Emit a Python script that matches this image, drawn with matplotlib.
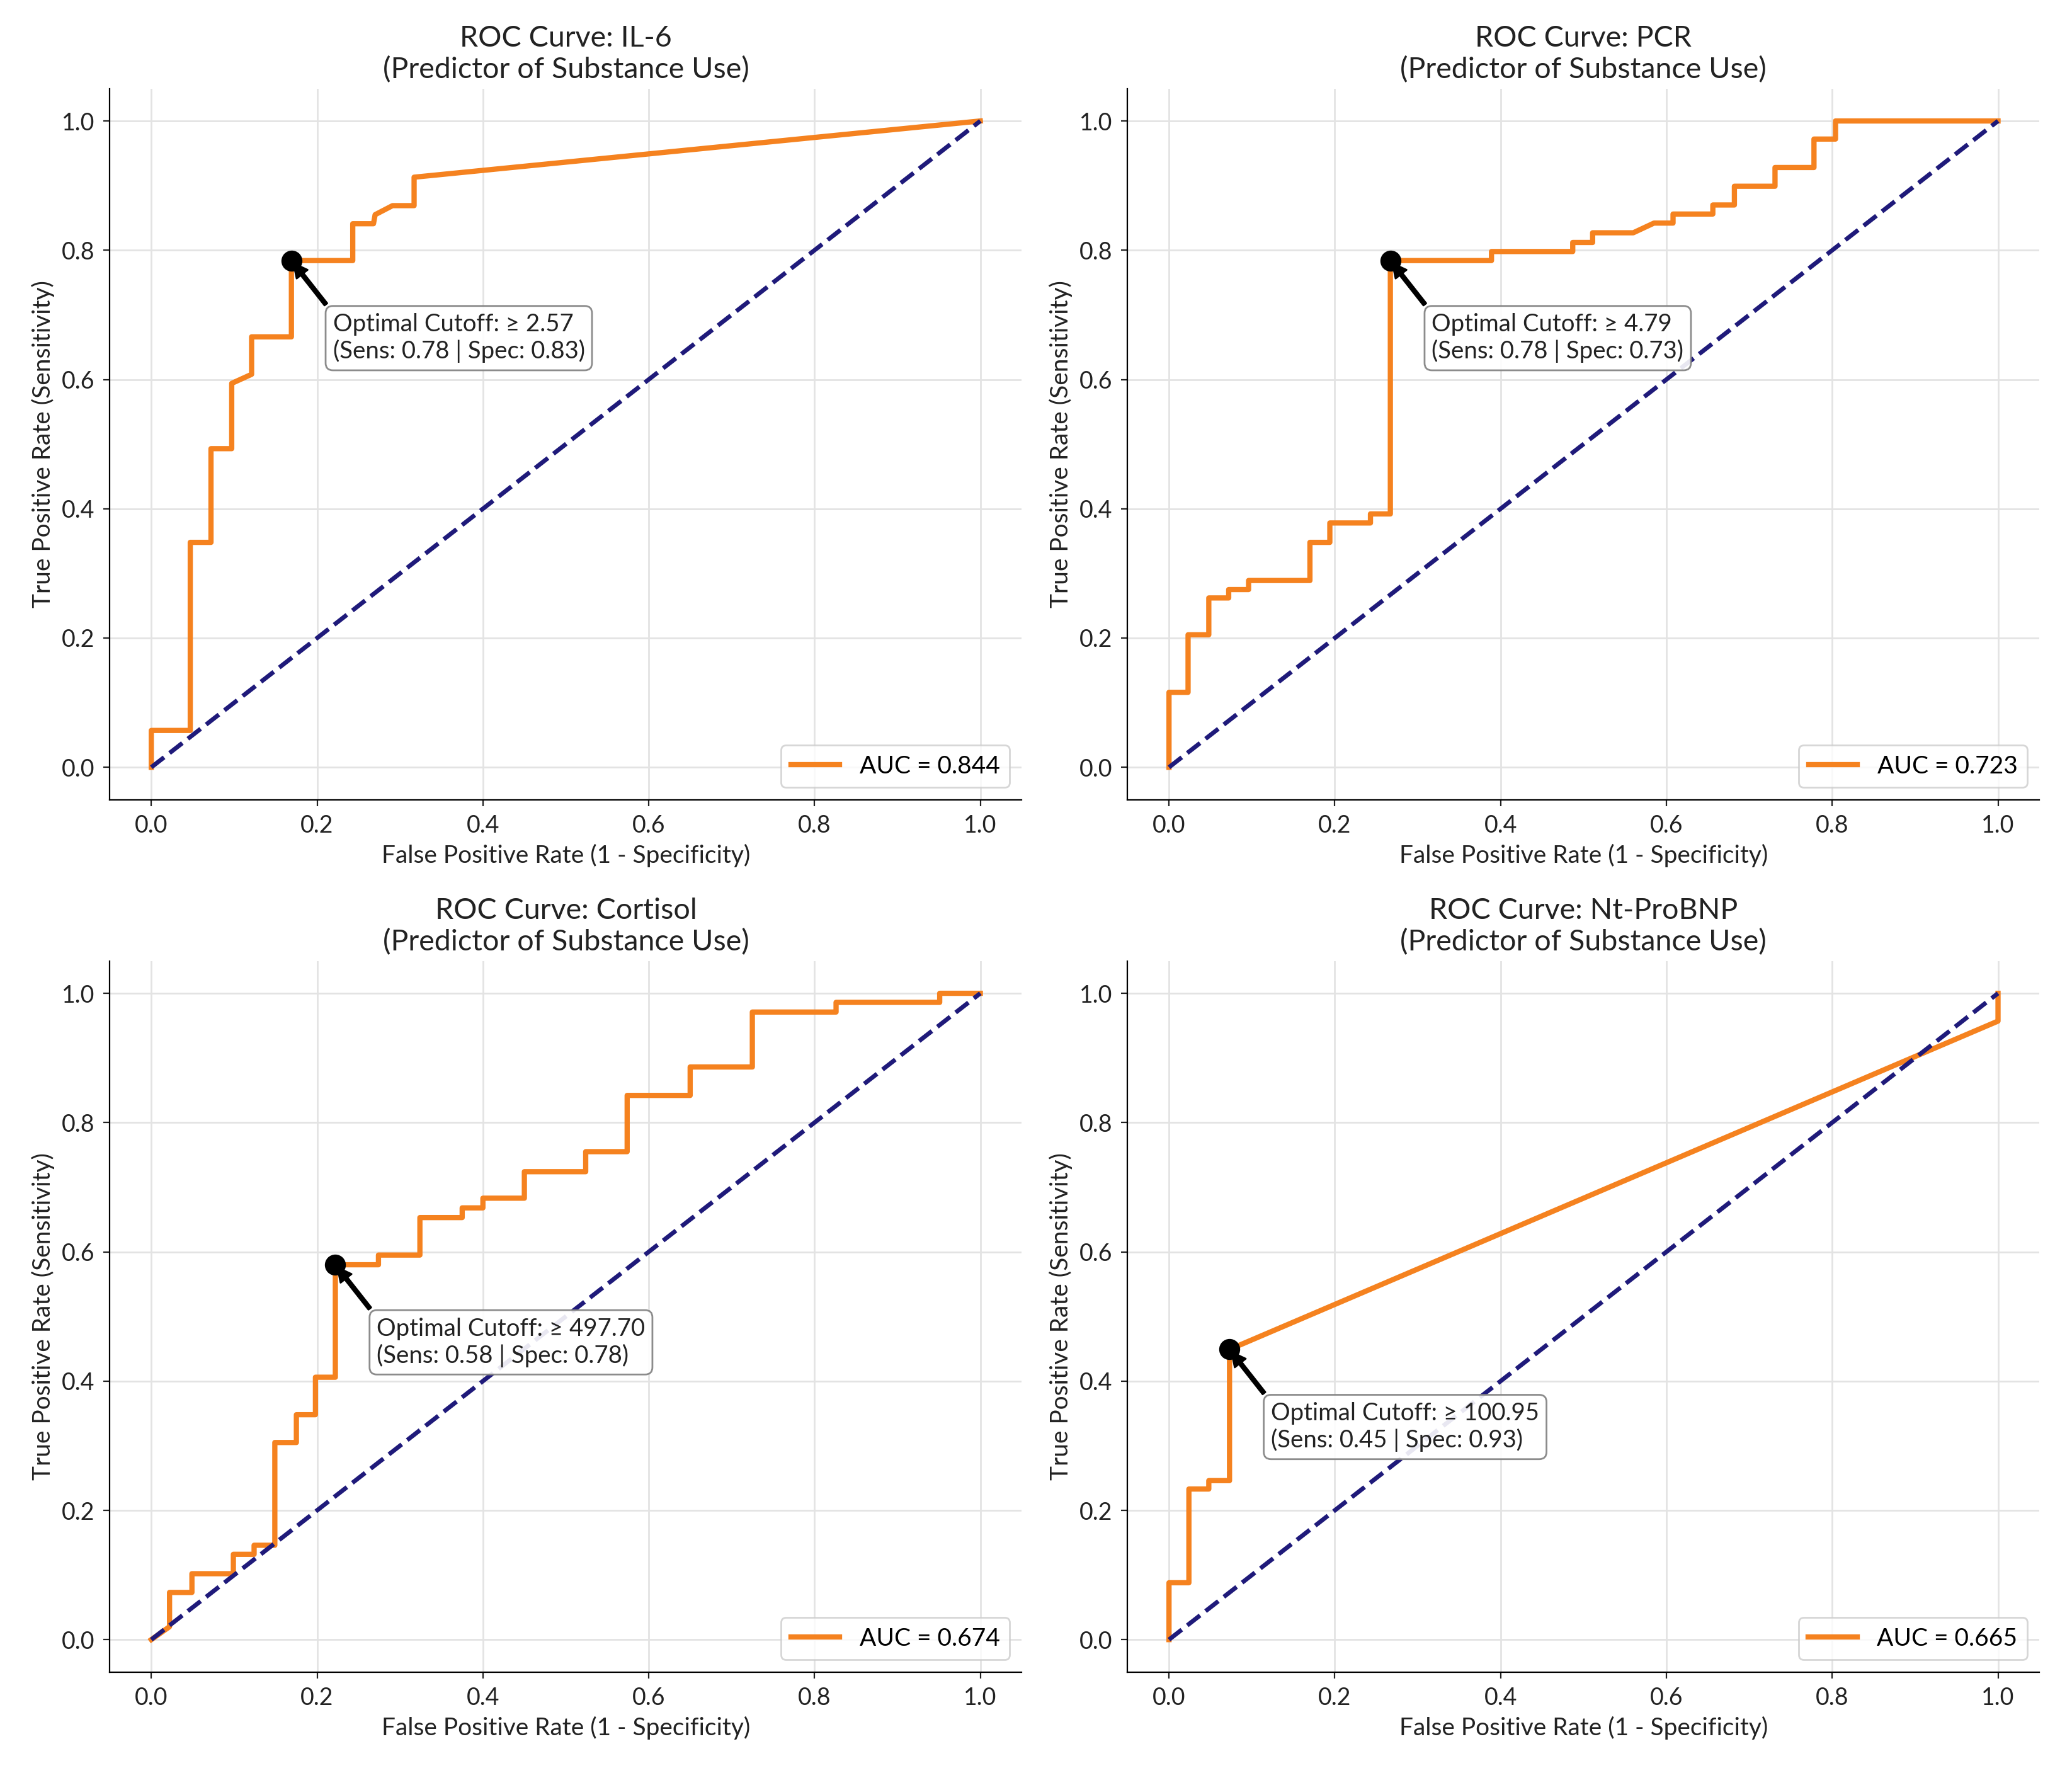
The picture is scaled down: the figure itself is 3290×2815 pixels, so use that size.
import numpy as np
import matplotlib
matplotlib.use('Agg')
import matplotlib.pyplot as plt

plt.rcParams['font.family'] = ['Lato', 'DejaVu Sans']

markers = ['IL-6', 'PCR', 'Cortisol', 'Nt-ProBNP']
auc_values = [0.844, 0.723, 0.674, 0.665]
cutoffs = [2.57, 4.79, 497.70, 100.95]
sens = [0.78, 0.78, 0.58, 0.45]
spec = [0.83, 0.73, 0.78, 0.93]

# optimal points as read on the curves
opt_fpr = [0.169, 0.267, 0.222, 0.073]
opt_tpr = [0.784, 0.784, 0.580, 0.449]

# ROC curves
il6_fpr = [0, 0, 0.047, 0.047, 0.072, 0.072, 0.097, 0.097, 0.121, 0.121,
           0.169, 0.169, 0.243, 0.243, 0.268, 0.270, 0.291, 0.317, 0.317, 1.0]
il6_tpr = [0, 0.057, 0.057, 0.348, 0.348, 0.493, 0.493, 0.594, 0.608, 0.666,
           0.666, 0.784, 0.784, 0.841, 0.841, 0.855, 0.869, 0.869, 0.913, 1.0]

pcr_fpr = [0, 0, 0.023, 0.023, 0.048, 0.048, 0.072, 0.072, 0.096, 0.096,
           0.170, 0.170, 0.194, 0.194, 0.243, 0.243, 0.267, 0.267, 0.389, 0.389,
           0.487, 0.487, 0.511, 0.511, 0.560, 0.585, 0.608, 0.608, 0.656, 0.656,
           0.682, 0.682, 0.731, 0.731, 0.778, 0.778, 0.804, 0.804, 1.0]
pcr_tpr = [0, 0.116, 0.116, 0.205, 0.205, 0.262, 0.262, 0.275, 0.275, 0.289,
           0.289, 0.348, 0.348, 0.378, 0.378, 0.392, 0.392, 0.784, 0.784, 0.798,
           0.798, 0.812, 0.812, 0.827, 0.827, 0.842, 0.842, 0.856, 0.856, 0.870,
           0.870, 0.899, 0.899, 0.928, 0.928, 0.972, 0.972, 1.0, 1.0]

cort_fpr = [0, 0.022, 0.022, 0.049, 0.049, 0.099, 0.099, 0.124, 0.124, 0.149,
            0.149, 0.175, 0.175, 0.198, 0.198, 0.222, 0.222, 0.274, 0.274, 0.324,
            0.324, 0.375, 0.375, 0.400, 0.400, 0.450, 0.450, 0.524, 0.524, 0.574,
            0.574, 0.650, 0.650, 0.725, 0.725, 0.826, 0.826, 0.951, 0.951, 1.0]
cort_tpr = [0, 0.020, 0.073, 0.073, 0.102, 0.102, 0.132, 0.132, 0.146, 0.146,
            0.305, 0.305, 0.348, 0.348, 0.406, 0.406, 0.580, 0.580, 0.595, 0.595,
            0.653, 0.653, 0.668, 0.668, 0.683, 0.683, 0.724, 0.724, 0.755, 0.755,
            0.842, 0.842, 0.886, 0.886, 0.971, 0.971, 0.986, 0.986, 1.0, 1.0]

bnp_fpr = [0, 0, 0.024, 0.024, 0.048, 0.048, 0.073, 0.073, 1.0, 1.0]
bnp_tpr = [0, 0.088, 0.088, 0.233, 0.233, 0.246, 0.246, 0.449, 0.957, 1.0]

all_fpr = [il6_fpr, pcr_fpr, cort_fpr, bnp_fpr]
all_tpr = [il6_tpr, pcr_tpr, cort_tpr, bnp_tpr]

fig, axes = plt.subplots(2, 2, figsize=(16.455, 14.075), dpi=200)
plt.subplots_adjust(left=0.053, right=0.984, top=0.950, bottom=0.057,
                    wspace=0.116, hspace=0.227)

for i, ax in enumerate(axes.flat):
    ax.plot(all_fpr[i], all_tpr[i], color='#F5821F', lw=3,
            label='AUC = {:.3f}'.format(auc_values[i]))
    ax.plot([0, 1], [0, 1], color='#1F1A7A', lw=2.5, linestyle='--')
    ax.plot(opt_fpr[i], opt_tpr[i], 'o', color='black', markersize=11, zorder=5)

    txt = 'Optimal Cutoff: \u2265 {:.2f}\n(Sens: {:.2f} | Spec: {:.2f})'.format(
        cutoffs[i], sens[i], spec[i])
    ax.annotate(txt, xy=(opt_fpr[i], opt_tpr[i]),
                xytext=(opt_fpr[i] + 0.05, opt_tpr[i] - 0.12),
                va='center', ha='left', fontsize=13.8, color='#222222',
                bbox=dict(boxstyle='round,pad=0.3', fc='white', ec='gray', alpha=0.9),
                arrowprops=dict(facecolor='black', edgecolor='black', shrink=0.05,
                                width=2, headwidth=8, headlength=8))

    ax.set_xlim(-0.05, 1.05)
    ax.set_ylim(-0.05, 1.05)
    ax.set_xticks(np.arange(0, 1.01, 0.2))
    ax.set_yticks(np.arange(0, 1.01, 0.2))
    ax.tick_params(axis='both', labelsize=13.5, colors='#222222', pad=5)
    ax.grid(True, color='#e3e3e3', linewidth=1)
    ax.set_axisbelow(True)
    ax.spines['top'].set_visible(False)
    ax.spines['right'].set_visible(False)
    ax.set_title('ROC Curve: {}\n(Predictor of Substance Use)'.format(markers[i]),
                 fontsize=16.8, color='#222222')
    ax.set_xlabel('False Positive Rate (1 - Specificity)', fontsize=14, color='#222222')
    ax.set_ylabel('True Positive Rate (Sensitivity)', fontsize=14, color='#222222')
    ax.legend(loc='lower right', fontsize=14)

plt.savefig('out.png', dpi=200)
